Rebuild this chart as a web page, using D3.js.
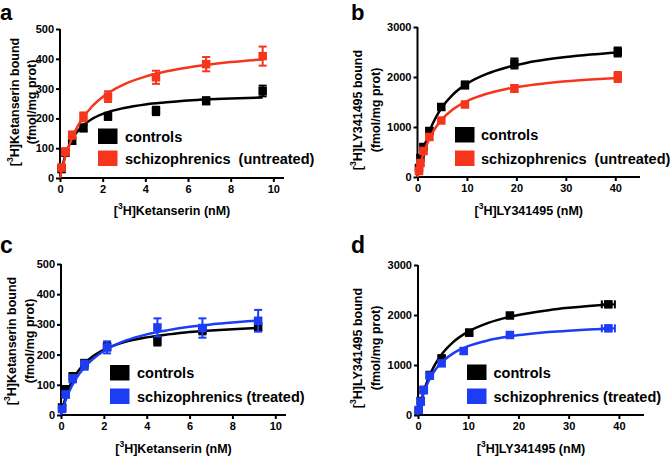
<!DOCTYPE html>
<html><head><meta charset="utf-8">
<script src="https://cdn.jsdelivr.net/npm/d3@7"></script>
<style>
html,body{margin:0;padding:0;background:#fff;}
svg{display:block;font-family:"Liberation Sans",Arial,sans-serif;font-weight:bold;}
</style></head>
<body><svg id="chart" width="671" height="456"></svg>
<script>
// ---------- DATA ----------
const yTicksKet = [0, 100, 200, 300, 400, 500];
const xTicksKet = [0, 2, 4, 6, 8, 10];
const yTicksLY = [0, 1000, 2000, 3000];
const xTicksLY = [0, 10, 20, 30, 40];

// Panel a
const aX = [0.07, 0.25, 0.57, 1.1, 2.25, 4.5, 6.85, 9.5];
const aCtrl = [30, 85, 125, 168, 207, 225, 259, 292];
const aCtrlErr = [8, 10, 10, 12, 12, 14, 12, 18];
const aSchz = [35, 88, 144, 205, 273, 338, 382, 409];
const aSchzErr = [10, 12, 12, 15, 18, 22, 24, 32];
const aCurveX = [0, 0.1, 0.25, 0.5, 0.75, 1, 1.5, 2, 3, 4, 5, 6, 7, 8, 9.5];
const aCurveCtrl = [0, 36, 76, 121, 150, 171, 198, 215, 235, 247, 254, 260, 264, 267, 270];
const aCurveSchz = [0, 31, 71, 123, 163, 194, 240, 272, 314, 340, 358, 371, 381, 389, 398];

// Panel b
const bX = [0.3, 0.6, 1.2, 2.4, 4.8, 9.6, 19.6, 40.5];
const bCtrl = [180, 380, 600, 920, 1400, 1840, 2270, 2500];
const bCtrlErr = [40, 50, 50, 60, 60, 70, 100, 90];
const bSchz = [120, 280, 520, 800, 1130, 1450, 1770, 2000];
const bSchzErr = [30, 40, 50, 50, 50, 50, 70, 100];
const bCurveX = [0, 0.5, 1, 2, 3, 4, 5, 7, 10, 14, 18, 22, 26, 30, 35, 40.5];
const bCurveCtrl = [0, 255, 467, 800, 1050, 1244, 1400, 1633, 1867, 2063, 2191, 2282, 2348, 2400, 2450, 2492];
const bCurveSchz = [0, 220, 400, 677, 880, 1035, 1158, 1339, 1517, 1665, 1760, 1826, 1875, 1913, 1949, 1980];

// Panel c
const cX = [0.05, 0.22, 0.55, 1.1, 2.15, 4.5, 6.6, 9.2];
const cCtrl = [25, 85, 128, 172, 226, 245, 282, 292];
const cCtrlErr = [8, 10, 10, 10, 12, 15, 15, 12];
const cSchz = [20, 68, 120, 165, 224, 290, 288, 312];
const cSchzErr = [8, 10, 12, 15, 20, 30, 32, 36];
const cCurveX = [0, 0.1, 0.25, 0.5, 0.75, 1, 1.5, 2, 3, 4, 5, 6, 7, 8, 9.2];
const cCurveCtrl = [0, 30, 66, 110, 140, 163, 195, 216, 242, 257, 267, 275, 280, 284, 288];
const cCurveSchz = [0, 24, 55, 95, 126, 150, 186, 212, 246, 267, 281, 292, 300, 306, 313];

// Panel d
const dXCtrl = [0.15, 0.55, 1.15, 2.35, 4.7, 10.2, 18.3, 37.9];
const dXSchz = [0.15, 0.55, 1.15, 2.35, 4.7, 9.1, 18.3, 37.9];
const dCtrl = [90, 280, 500, 800, 1133, 1647, 1990, 2213];
const dCtrlErr = [30, 40, 40, 50, 50, 60, 50, 40];
const dCtrlXErr = [0, 0, 0, 0, 0, 0, 0, 1.3];
const dSchz = [100, 267, 500, 787, 1033, 1280, 1600, 1733];
const dSchzErr = [30, 40, 40, 50, 50, 50, 40, 40];
const dSchzXErr = [0, 0, 0, 0, 0, 0, 0, 1.3];
const dCurveX = [0, 0.5, 1, 2, 3, 4, 5, 7, 10, 14, 18, 22, 26, 30, 34, 37.9];
const dCurveCtrl = [0, 227, 417, 714, 938, 1111, 1250, 1458, 1667, 1842, 1957, 2037, 2097, 2143, 2180, 2209];
const dCurveSchz = [0, 221, 396, 655, 838, 974, 1080, 1232, 1377, 1494, 1569, 1620, 1658, 1686, 1709, 1727];

const seriesNames = ["controls", "schizophrenics  (untreated)", "schizophrenics (treated)"];
const panelLetters = ["a", "b", "c", "d"];

// ---------- STYLE ----------
const BLACK = "#000000", RED = "#f5361c", BLUE = "#1c3cf5";
const svg = d3.select("#chart");

const panels = [
  {letter: panelLetters[0], lx: 0, ly: 20, lsize: 22,
   xr: [60, 284], xd: [0, 10.5], yr: [178, 29], yd: [0, 500],
   xTicks: xTicksKet, yTicks: yTicksKet, xLabelY: 211,
   yTitle: ["Ketanserin bound", "(fmol/mg prot)"], yTitleX: [15, 32], yTitleC: 102,
   xTitle: "Ketanserin (nM)",
   series: [
     {x: aX, y: aCtrl, e: aCtrlErr, color: BLACK, cx: aCurveX, cy: aCurveCtrl},
     {x: aX, y: aSchz, e: aSchzErr, color: RED, cx: aCurveX, cy: aCurveSchz}],
   legend: {x: 98, y: [128.5, 150.5], tx: 125, names: [seriesNames[0], seriesNames[1]]}},
  {letter: panelLetters[1], lx: 351, ly: 20, lsize: 22,
   xr: [417.5, 640], xd: [0, 45], yr: [177, 27], yd: [0, 3000],
   xTicks: xTicksLY, yTicks: yTicksLY, xLabelY: 211,
   yTitle: ["LY341495 bound", "(fmol/mg prot)"], yTitleX: [358, 375.5], yTitleC: 110,
   xTitle: "LY341495 (nM)",
   series: [
     {x: bX, y: bCtrl, e: bCtrlErr, color: BLACK, cx: bCurveX, cy: bCurveCtrl},
     {x: bX, y: bSchz, e: bSchzErr, color: RED, cx: bCurveX, cy: bCurveSchz}],
   legend: {x: 455, y: [127, 150.5], tx: 481, names: [seriesNames[0], seriesNames[1]]}},
  {letter: panelLetters[2], lx: 0, ly: 253, lsize: 23,
   xr: [61, 286], xd: [0, 10.5], yr: [415, 264], yd: [0, 500],
   xTicks: xTicksKet, yTicks: yTicksKet, xLabelY: 449,
   yTitle: ["Ketanserin bound", "(fmol/mg prot)"], yTitleX: [12, 29.5], yTitleC: 341,
   xTitle: "Ketanserin (nM)",
   series: [
     {x: cX, y: cCtrl, e: cCtrlErr, color: BLACK, cx: cCurveX, cy: cCurveCtrl},
     {x: cX, y: cSchz, e: cSchzErr, color: BLUE, cx: cCurveX, cy: cCurveSchz}],
   legend: {x: 110, y: [365, 388.5], tx: 137, names: [seriesNames[0], seriesNames[2]]}},
  {letter: panelLetters[3], lx: 351, ly: 253, lsize: 23,
   xr: [418, 644], xd: [0, 45], yr: [415, 265], yd: [0, 3000],
   xTicks: xTicksLY, yTicks: yTicksLY, xLabelY: 448.5,
   yTitle: ["LY341495 bound", "(fmol/mg prot)"], yTitleX: [358, 375.5], yTitleC: 348,
   xTitle: "LY341495 (nM)",
   series: [
     {x: dXCtrl, y: dCtrl, e: dCtrlErr, xe: dCtrlXErr, color: BLACK, cx: dCurveX, cy: dCurveCtrl},
     {x: dXSchz, y: dSchz, e: dSchzErr, xe: dSchzXErr, color: BLUE, cx: dCurveX, cy: dCurveSchz}],
   legend: {x: 467, y: [364.5, 388.5], tx: 493.5, names: [seriesNames[0], seriesNames[2]]}}
];

function addH3(textSel, rest, size) {
  textSel.append("tspan").text("[");
  textSel.append("tspan").attr("font-size", size * 0.68).attr("dy", -size * 0.38).text("3");
  textSel.append("tspan").attr("dy", size * 0.38).text("H]" + rest);
}

panels.forEach(p => {
  const g = svg.append("g");
  const x = d3.scaleLinear().domain(p.xd).range(p.xr);
  const y = d3.scaleLinear().domain(p.yd).range(p.yr);

  // panel letter
  g.append("text").attr("x", p.lx).attr("y", p.ly).attr("font-size", p.lsize).text(p.letter);

  // axes
  const yAxis = d3.axisLeft(y).tickValues(p.yTicks).tickFormat(d3.format("d"))
    .tickSize(4).tickPadding(2).tickSizeOuter(0);
  const xAxis = d3.axisBottom(x).tickValues(p.xTicks).tickFormat(d3.format("d"))
    .tickSize(4).tickPadding(3).tickSizeOuter(0);
  const gy = g.append("g").attr("transform", `translate(${p.xr[0]},0)`).call(yAxis);
  const gx = g.append("g").attr("transform", `translate(0,${p.yr[0]})`).call(xAxis);
  [gx, gy].forEach(a => {
    a.select(".domain").attr("stroke", "#000").attr("stroke-width", 2);
    a.selectAll(".tick line").attr("stroke", "#000").attr("stroke-width", 2);
    a.selectAll(".tick text").attr("font-size", 11).attr("font-weight", "bold")
      .attr("font-family", '"Liberation Sans",Arial,sans-serif').attr("fill", "#000");
  });
  gy.select(".domain").attr("d", `M0,${p.yr[0] + 1}V${p.yr[1]}`);
  gx.select(".domain").attr("d", `M${p.xr[0] - 1},0H${p.xr[1]}`);

  // x title
  const xt = g.append("text").attr("x", (p.xr[0] + p.xr[1]) / 2).attr("y", p.xLabelY)
    .attr("text-anchor", "middle").attr("dominant-baseline", "central").attr("font-size", 12.5);
  addH3(xt, p.xTitle, 12.5);

  // y title (two lines, rotated)
  p.yTitle.forEach((line, i) => {
    const t = g.append("text")
      .attr("transform", `translate(${p.yTitleX[i]},${p.yTitleC}) rotate(-90)`)
      .attr("text-anchor", "middle").attr("dominant-baseline", "central").attr("font-size", 12.5);
    if (i === 0) addH3(t, line, 12.5); else t.text(line);
  });

  // series
  const line = d3.line().x(d => x(d[0])).y(d => y(d[1])).curve(d3.curveMonotoneX);
  p.series.forEach(s => {
    const sg = g.append("g");
    sg.append("path").datum(s.cx.map((v, i) => [v, s.cy[i]]))
      .attr("d", line).attr("fill", "none").attr("stroke", s.color).attr("stroke-width", 2.5);
    const pts = s.x.map((v, i) => ({x: v, y: s.y[i], e: s.e[i], xe: s.xe ? s.xe[i] : 0}));
    const eb = sg.selectAll(".eb").data(pts).enter().append("g");
    eb.append("line").attr("x1", d => x(d.x)).attr("x2", d => x(d.x))
      .attr("y1", d => y(d.y - d.e)).attr("y2", d => y(d.y + d.e))
      .attr("stroke", s.color).attr("stroke-width", 2);
    eb.append("line").attr("x1", d => x(d.x) - 4).attr("x2", d => x(d.x) + 4)
      .attr("y1", d => y(d.y + d.e)).attr("y2", d => y(d.y + d.e))
      .attr("stroke", s.color).attr("stroke-width", 2);
    eb.append("line").attr("x1", d => x(d.x) - 4).attr("x2", d => x(d.x) + 4)
      .attr("y1", d => y(d.y - d.e)).attr("y2", d => y(d.y - d.e))
      .attr("stroke", s.color).attr("stroke-width", 2);
    const xeb = eb.filter(d => d.xe > 0);
    xeb.append("line").attr("x1", d => x(d.x - d.xe)).attr("x2", d => x(d.x + d.xe))
      .attr("y1", d => y(d.y)).attr("y2", d => y(d.y)).attr("stroke", s.color).attr("stroke-width", 2);
    xeb.append("line").attr("x1", d => x(d.x + d.xe)).attr("x2", d => x(d.x + d.xe))
      .attr("y1", d => y(d.y) - 4).attr("y2", d => y(d.y) + 4).attr("stroke", s.color).attr("stroke-width", 2);
    xeb.append("line").attr("x1", d => x(d.x - d.xe)).attr("x2", d => x(d.x - d.xe))
      .attr("y1", d => y(d.y) - 4).attr("y2", d => y(d.y) + 4).attr("stroke", s.color).attr("stroke-width", 2);
    sg.selectAll(".pt").data(pts).enter().append("rect")
      .attr("x", d => x(d.x) - 4.25).attr("y", d => y(d.y) - 4.25)
      .attr("width", 8.5).attr("height", 8.5).attr("fill", s.color);
  });

  // legend
  p.legend.names.forEach((name, i) => {
    g.append("rect").attr("x", p.legend.x).attr("y", p.legend.y[i])
      .attr("width", 19.5).attr("height", 15.5).attr("fill", p.series[i].color);
    g.append("text").attr("x", p.legend.tx).attr("y", p.legend.y[i] + 8)
      .attr("dominant-baseline", "central").attr("font-size", 14.5)
      .style("white-space", "pre").attr("xml:space", "preserve").text(name);
  });
});
</script></body></html>
